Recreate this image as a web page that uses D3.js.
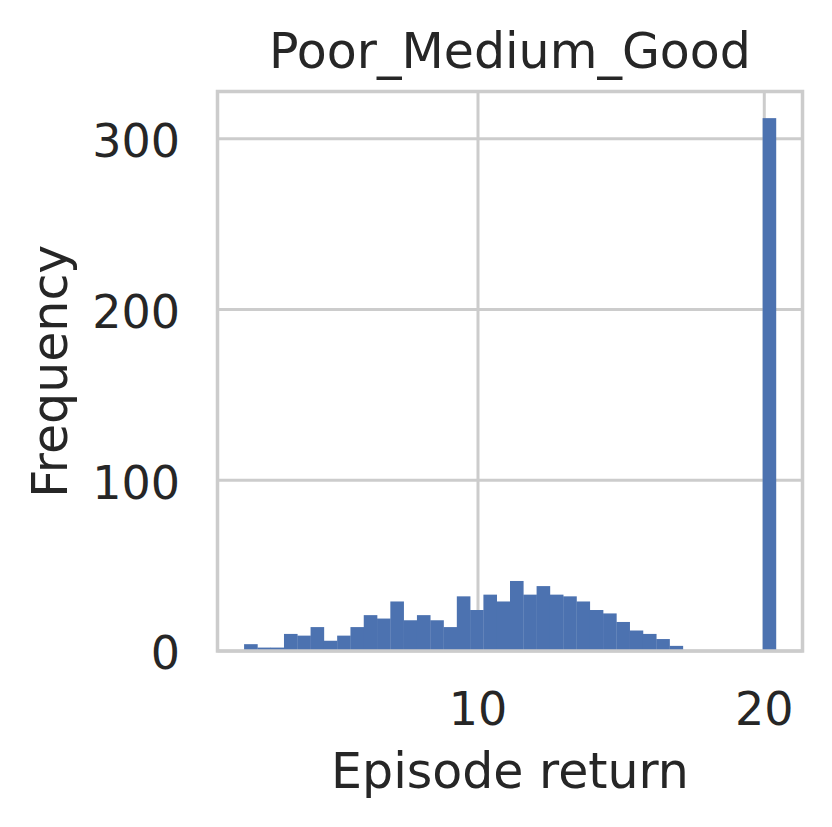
<!DOCTYPE html>
<html>
<head>
<meta charset="utf-8">
<script src="https://cdn.jsdelivr.net/npm/d3@7"></script>
<style>
  body { margin: 0; background: #fff; }
  text { font-family: "DejaVu Sans", sans-serif; fill: #262626; }
</style>
</head>
<body>
<div id="chart"></div>
<script>
// histogram of episode returns, 40 equal bins
const chartTitle = "Poor_Medium_Good";
const xLabel = "Episode return";
const yLabel = "Frequency";
const binStart = 1.83;
const binWidth = 0.4644;
const counts = [4, 2, 2, 10, 9, 14, 6, 9, 14, 21,
                19, 29, 18, 21, 18, 14, 32, 24, 33, 29,
                41, 33, 38, 33, 32, 29, 24, 22, 17, 12,
                10, 7, 3, 0, 0, 0, 0, 0, 0, 312];
const xTicks = [10, 20];
const yTicks = [0, 100, 200, 300];

const W = 832, H = 827;
const margin = {top: 91.5, right: 29.5, bottom: 176, left: 217.5};
const width = W - margin.left - margin.right;
const height = H - margin.top - margin.bottom;

const bins = counts.map((c, i) => ({x0: binStart + i * binWidth, x1: binStart + (i + 1) * binWidth, n: c}));

// matplotlib style 5% padding
const lo = bins[0].x0, hi = bins[bins.length - 1].x1;
const pad = (hi - lo) * 0.05;
const x = d3.scaleLinear().domain([lo - pad, hi + pad]).range([0, width]);
const y = d3.scaleLinear().domain([0, d3.max(counts) * 1.05]).range([height, 0]);

const svg = d3.select("#chart").append("svg")
    .attr("width", W)
    .attr("height", H);

const g = svg.append("g")
    .attr("transform", "translate(" + margin.left + "," + margin.top + ")");

// grid
g.selectAll(".xgrid").data(xTicks).enter().append("line")
    .attr("x1", d => x(d)).attr("x2", d => x(d))
    .attr("y1", 0).attr("y2", height)
    .attr("stroke", "#cccccc").attr("stroke-width", 3);

g.selectAll(".ygrid").data(yTicks).enter().append("line")
    .attr("x1", 0).attr("x2", width)
    .attr("y1", d => y(d)).attr("y2", d => y(d))
    .attr("stroke", "#cccccc").attr("stroke-width", 3);

// bars
g.selectAll(".bar").data(bins.filter(b => b.n > 0)).enter().append("rect")
    .attr("x", d => x(d.x0))
    .attr("width", d => x(d.x1) - x(d.x0) + 0.3)
    .attr("y", d => y(d.n))
    .attr("height", d => y(0) - y(d.n))
    .attr("fill", "#4c72b0");

// frame
g.append("rect")
    .attr("x", 0).attr("y", 0)
    .attr("width", width).attr("height", height)
    .attr("fill", "none")
    .attr("stroke", "#cccccc")
    .attr("stroke-width", 3.5);

// tick labels
g.selectAll(".xlab").data(xTicks).enter().append("text")
    .attr("x", d => x(d))
    .attr("y", 725 - margin.top)
    .attr("text-anchor", "middle")
    .attr("font-size", 46)
    .text(d => d);

g.selectAll(".ylab").data(yTicks).enter().append("text")
    .attr("x", 180 - margin.left)
    .attr("y", d => y(d))
    .attr("dy", "0.4em")
    .attr("text-anchor", "end")
    .attr("font-size", 46)
    .text(d => d);

// titles
svg.append("text")
    .attr("x", margin.left + width / 2)
    .attr("y", 68)
    .attr("text-anchor", "middle")
    .attr("font-size", 49)
    .text(chartTitle);

svg.append("text")
    .attr("x", margin.left + width / 2)
    .attr("y", 788)
    .attr("text-anchor", "middle")
    .attr("font-size", 49)
    .text(xLabel);

svg.append("text")
    .attr("transform", "translate(67," + (margin.top + height / 2) + ") rotate(-90)")
    .attr("text-anchor", "middle")
    .attr("font-size", 49)
    .text(yLabel);
</script>
</body>
</html>
